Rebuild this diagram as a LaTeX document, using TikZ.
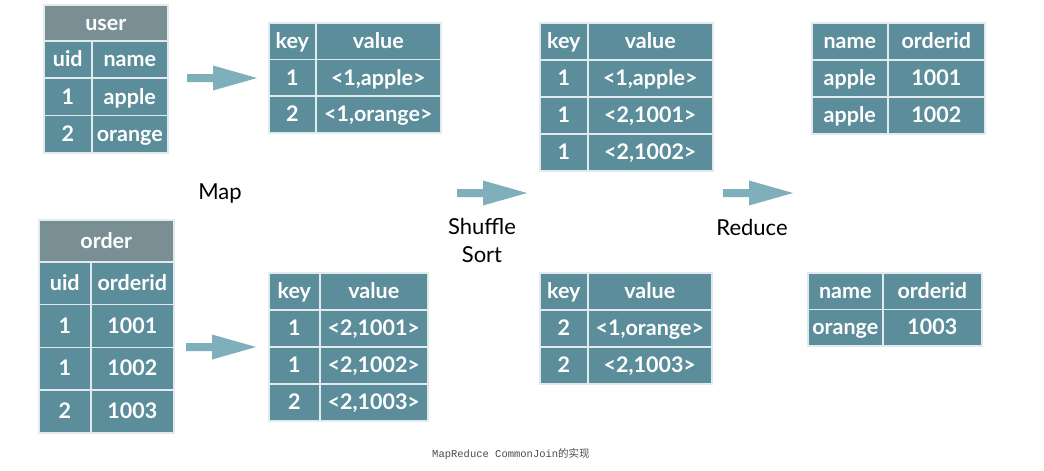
\documentclass[tikz,border=0pt]{standalone}
\usepackage{fontspec}
\setmainfont{Lato}
\setmonofont{Liberation Mono}
\newfontfamily\cjk{Noto Sans CJK SC}
\definecolor{cellc}{RGB}{91,141,154}
\definecolor{headc}{RGB}{121,143,148}
\definecolor{arrowc}{RGB}{127,175,187}
\definecolor{linec}{RGB}{225,234,236}
\tikzset{
  cell/.style={draw=linec, line width=1.6pt, fill=cellc, text=white, inner sep=0pt,
    anchor=north west, font=\fontsize{21.5}{21.5}\selectfont\bfseries,
    text height=17pt, text depth=2.5pt},
  lbl/.style={text=black, font=\fontsize{22}{22}\selectfont, align=center},
  blockarrow/.style={fill=arrowc, draw=none}
}
% \cellbox[fill]{name}{x}{y}{w}{h}{text}
\newcommand\cellbox[7][cellc]{\node[cell, fill=#1, minimum width=#5pt, minimum height=#6pt] (#2) at (#3,#4) {#7};}
% \barrow{start x}{centre y}{tip x}
\newcommand\barrow[3]{\fill[blockarrow] ({#1},{#2-4}) -- ({#3-44},{#2-4}) -- ({#3-44},{#2-12.5}) -- ({#3},{#2}) -- ({#3-44},{#2+12.5}) -- ({#3-44},{#2+4}) -- ({#1},{#2+4}) -- cycle;}
\begin{document}
\begin{tikzpicture}[x=1pt,y=-1pt]
\useasboundingbox (0,0) rectangle (1044,471);
\fill[white] (0,0) rectangle (1044,471);
% user table
\cellbox[headc]{uh}{43}{4}{124}{36}{user}
\cellbox{u11}{43}{40}{48}{37.3}{uid}
\cellbox{u12}{91}{40}{76}{37.3}{name}
\cellbox{u21}{43}{77.3}{48}{37.3}{1}
\cellbox{u22}{91}{77.3}{76}{37.3}{apple}
\cellbox{u31}{43}{114.6}{48}{37.3}{2}
\cellbox{u32}{91}{114.6}{76}{37.3}{orange}
% order table
\cellbox[headc]{oh}{38}{219}{135}{42}{order}
\cellbox{o11}{38}{261}{52}{42.75}{uid}
\cellbox{o12}{90}{261}{83}{42.75}{orderid}
\cellbox{o21}{38}{303.75}{52}{42.75}{1}
\cellbox{o22}{90}{303.75}{83}{42.75}{1001}
\cellbox{o31}{38}{346.5}{52}{42.75}{1}
\cellbox{o32}{90}{346.5}{83}{42.75}{1002}
\cellbox{o41}{38}{389.25}{52}{42.75}{2}
\cellbox{o42}{90}{389.25}{83}{42.75}{1003}
% map output top
\cellbox{a11}{268}{22}{47}{36.7}{key}
\cellbox{a12}{315}{22}{125}{36.7}{value}
\cellbox{a21}{268}{58.7}{47}{36.7}{1}
\cellbox{a22}{315}{58.7}{125}{36.7}{<1,apple>}
\cellbox{a31}{268}{95.4}{47}{36.7}{2}
\cellbox{a32}{315}{95.4}{125}{36.7}{<1,orange>}
% map output bottom
\cellbox{b11}{268}{272}{51}{37}{key}
\cellbox{b12}{319}{272}{108}{37}{value}
\cellbox{b21}{268}{309}{51}{37}{1}
\cellbox{b22}{319}{309}{108}{37}{<2,1001>}
\cellbox{b31}{268}{346}{51}{37}{1}
\cellbox{b32}{319}{346}{108}{37}{<2,1002>}
\cellbox{b41}{268}{383}{51}{37}{2}
\cellbox{b42}{319}{383}{108}{37}{<2,1003>}
% shuffle top
\cellbox{c11}{539}{22}{48}{37}{key}
\cellbox{c12}{587}{22}{125}{37}{value}
\cellbox{c21}{539}{59}{48}{37}{1}
\cellbox{c22}{587}{59}{125}{37}{<1,apple>}
\cellbox{c31}{539}{96}{48}{37}{1}
\cellbox{c32}{587}{96}{125}{37}{<2,1001>}
\cellbox{c41}{539}{133}{48}{37}{1}
\cellbox{c42}{587}{133}{125}{37}{<2,1002>}
% shuffle bottom
\cellbox{d11}{539}{272}{48}{37}{key}
\cellbox{d12}{587}{272}{124}{37}{value}
\cellbox{d21}{539}{309}{48}{37}{2}
\cellbox{d22}{587}{309}{124}{37}{<1,orange>}
\cellbox{d31}{539}{346}{48}{37}{2}
\cellbox{d32}{587}{346}{124}{37}{<2,1003>}
% result top
\cellbox{e11}{811}{22}{76}{37}{name}
\cellbox{e12}{887}{22}{97}{37}{orderid}
\cellbox{e21}{811}{59}{76}{37}{apple}
\cellbox{e22}{887}{59}{97}{37}{1001}
\cellbox{e31}{811}{96}{76}{37}{apple}
\cellbox{e32}{887}{96}{97}{37}{1002}
% result bottom
\cellbox{f11}{807}{272}{75}{36.5}{name}
\cellbox{f12}{882}{272}{99}{36.5}{orderid}
\cellbox{f21}{807}{308.5}{75}{36.5}{orange}
\cellbox{f22}{882}{308.5}{99}{36.5}{1003}
% arrows
\barrow{187}{78}{257}
\barrow{186}{347}{256}
\barrow{457}{193}{527}
\barrow{723}{193}{793}
% labels
\node[lbl] (map) at (220,194) {Map};
\node[lbl] (shuffle) at (482,226) {Shuffle};
\node[lbl] (sort) at (482,255) {Sort};
\node[lbl] (reduce) at (752,227) {Reduce};
\node[anchor=west, text=black!70, inner sep=0pt] (cap) at (432,454)
  {\ttfamily\fontsize{10.5}{10.5}\selectfont MapReduce CommonJoin\cjk 的实现};
\end{tikzpicture}
\end{document}
